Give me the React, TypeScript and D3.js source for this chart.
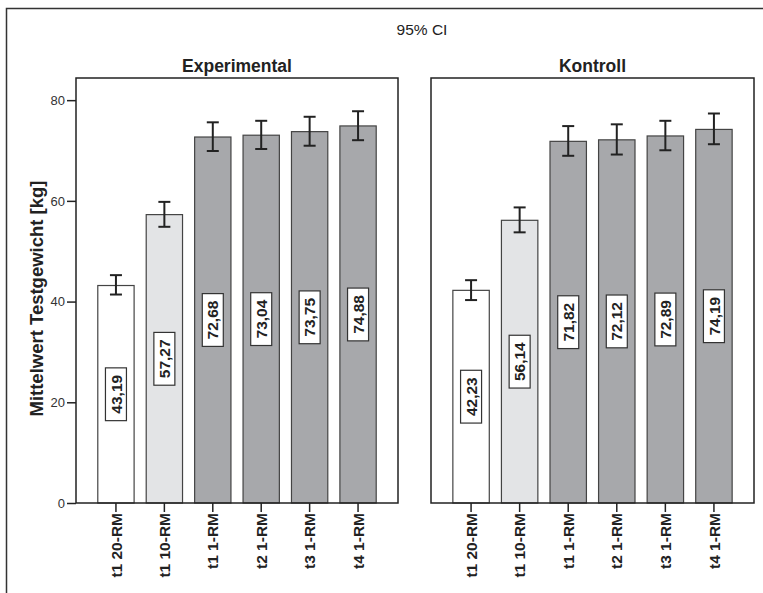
import React, { useEffect, useRef } from 'react';
import * as d3 from 'd3';

// values
const groups = ['Experimental', 'Kontroll'];
const categories = ['t1 20-RM', 't1 10-RM', 't1 1-RM', 't2 1-RM', 't3 1-RM', 't4 1-RM'];
const barColors = ['#ffffff', '#e3e4e6', '#a7a8ab', '#a7a8ab', '#a7a8ab', '#a7a8ab'];

const expMeans = [43.19, 57.27, 72.68, 73.04, 73.75, 74.88];
const expLower = [41.4, 54.85, 69.9, 70.3, 70.95, 72.05];
const expUpper = [45.25, 59.8, 75.6, 75.9, 76.7, 77.8];

const konMeans = [42.23, 56.14, 71.82, 72.12, 72.89, 74.19];
const konLower = [40.3, 53.75, 68.95, 69.2, 70.05, 71.25];
const konUpper = [44.25, 58.7, 74.85, 75.2, 75.9, 77.35];

const yTicks = [0, 20, 40, 60, 80];

const App = () => {
  const svgRef = useRef(null);

  useEffect(() => {
    const svg = d3.select(svgRef.current);
    svg.selectAll('*').remove();

    const width = 763;
    const height = 593;
    const top = 78;
    const bottom = 503;
    const panels = [
      { name: groups[0], x0: 76, x1: 398, means: expMeans, lo: expLower, hi: expUpper },
      { name: groups[1], x0: 431, x1: 754, means: konMeans, lo: konLower, hi: konUpper },
    ];
    const font = 'Arial, "Liberation Sans", Helvetica, sans-serif';

    svg.append('rect').attr('width', width).attr('height', height).attr('fill', 'white');

    // outer frame: only top and left edges are inside the picture
    svg.append('path')
      .attr('d', `M6.5,${height}V8.5H${width}`)
      .attr('fill', 'none').attr('stroke', '#333').attr('stroke-width', 1.5);

    svg.append('text')
      .attr('x', 422).attr('y', 35)
      .attr('text-anchor', 'middle')
      .attr('font-family', font).attr('font-size', 15.5)
      .attr('fill', '#222')
      .text('95% CI');

    const y = d3.scaleLinear().domain([0, 84.4]).range([bottom, top]);

    panels.forEach((p, pi) => {
      const x = d3.scaleBand()
        .domain(categories)
        .range([p.x0, p.x1])
        .paddingInner(0.25)
        .paddingOuter(0.45);

      const g = svg.append('g');

      // panel title
      g.append('text')
        .attr('x', (p.x0 + p.x1) / 2).attr('y', 72)
        .attr('text-anchor', 'middle')
        .attr('font-family', font).attr('font-size', 17.5).attr('font-weight', 'bold')
        .attr('fill', '#222')
        .text(p.name);

      // bars
      g.selectAll('.bar')
        .data(categories)
        .enter()
        .append('rect')
        .attr('class', 'bar')
        .attr('x', d => x(d))
        .attr('y', (d, i) => y(p.means[i]))
        .attr('width', x.bandwidth())
        .attr('height', (d, i) => bottom - y(p.means[i]))
        .attr('fill', (d, i) => barColors[i])
        .attr('stroke', '#444')
        .attr('stroke-width', 1.2);

      // error bars
      categories.forEach((c, i) => {
        const cx = x(c) + x.bandwidth() / 2;
        const eb = g.append('g').attr('stroke', '#222').attr('stroke-width', 2);
        eb.append('line').attr('x1', cx).attr('x2', cx).attr('y1', y(p.lo[i])).attr('y2', y(p.hi[i]));
        eb.append('line').attr('x1', cx - 6).attr('x2', cx + 6).attr('y1', y(p.lo[i])).attr('y2', y(p.lo[i]));
        eb.append('line').attr('x1', cx - 6).attr('x2', cx + 6).attr('y1', y(p.hi[i])).attr('y2', y(p.hi[i]));
      });

      // value labels in boxes, rotated
      categories.forEach((c, i) => {
        const cx = x(c) + x.bandwidth() / 2;
        const cy = y(p.means[i] / 2);
        const lg = g.append('g').attr('transform', `translate(${cx},${cy}) rotate(-90)`);
        const box = lg.append('rect');
        const t = lg.append('text')
          .attr('text-anchor', 'middle')
          .attr('dy', '0.36em')
          .attr('font-family', font).attr('font-size', 15.5).attr('font-weight', 'bold')
          .attr('fill', '#222')
          .text(d3.format('.2f')(p.means[i]).replace('.', ','));
        const w = t.node().getComputedTextLength() + 14;
        box.attr('x', -w / 2).attr('y', -10.5).attr('width', w).attr('height', 21)
          .attr('fill', 'white').attr('stroke', '#333').attr('stroke-width', 1.2);
      });

      // frame
      g.append('rect')
        .attr('x', p.x0).attr('y', top)
        .attr('width', p.x1 - p.x0).attr('height', bottom - top)
        .attr('fill', 'none').attr('stroke', '#222').attr('stroke-width', 1.5);

      // x axis
      const xAxis = g.append('g')
        .attr('transform', `translate(0,${bottom})`)
        .call(d3.axisBottom(x).tickSize(9).tickSizeOuter(0));
      xAxis.select('.domain').remove();
      xAxis.selectAll('line').attr('stroke', '#222').attr('stroke-width', 1.5);
      xAxis.selectAll('text')
        .attr('transform', 'rotate(-90)')
        .attr('x', -10).attr('y', 0).attr('dy', '0.36em')
        .style('text-anchor', 'end')
        .attr('font-family', font).attr('font-size', 15.5).attr('font-weight', 'bold')
        .attr('fill', '#222');

      // y axis only on first panel
      if (pi === 0) {
        const yAxis = g.append('g')
          .attr('transform', `translate(${p.x0},0)`)
          .call(d3.axisLeft(y).tickValues(yTicks).tickSize(9).tickPadding(2).tickSizeOuter(0));
        yAxis.select('.domain').remove();
        yAxis.selectAll('line').attr('stroke', '#222').attr('stroke-width', 1.5);
        yAxis.selectAll('text')
          .attr('font-family', font).attr('font-size', 13)
          .attr('fill', '#333');

        g.append('text')
          .attr('transform', `translate(43,${(top + bottom) / 2 + 8}) rotate(-90)`)
          .attr('text-anchor', 'middle')
          .attr('font-family', font).attr('font-size', 18.5).attr('font-weight', 'bold')
          .attr('fill', '#222')
          .text('Mittelwert Testgewicht [kg]');
      }
    });
  }, []);

  return (
    <svg
      ref={svgRef}
      width={763}
      height={593}
      style={{ position: 'absolute', left: 0, top: 0, display: 'block' }}
    ></svg>
  );
};

export default App;
